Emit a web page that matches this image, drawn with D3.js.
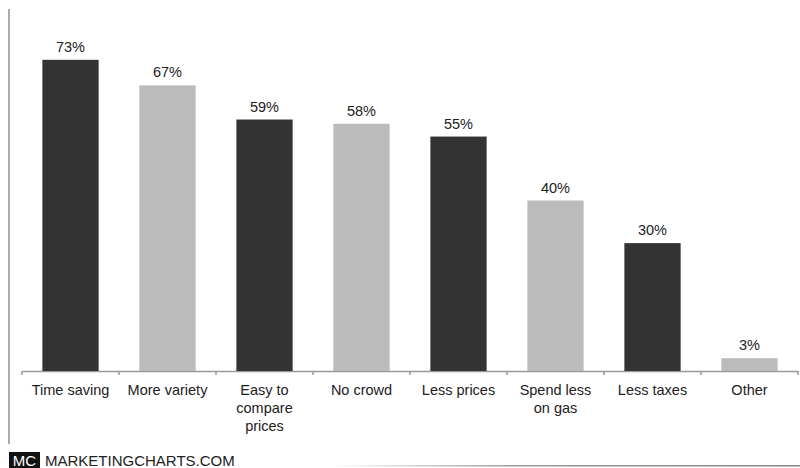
<!DOCTYPE html>
<html>
<head>
<meta charset="utf-8">
<script src="https://cdn.jsdelivr.net/npm/d3@7"></script>
<style>
  body { margin: 0; background: #fff; }
  svg { display: block; font-family: "Liberation Sans", Arial, sans-serif; }
</style>
</head>
<body>
<div id="chart-area"></div>
<script>
var categories = ["Time saving", "More variety", "Easy to compare prices", "No crowd", "Less prices", "Spend less on gas", "Less taxes", "Other"];
var labelLines = [["Time saving"], ["More variety"], ["Easy to", "compare", "prices"], ["No crowd"], ["Less prices"], ["Spend less", "on gas"], ["Less taxes"], ["Other"]];
var values = [73, 67, 59, 58, 55, 40, 30, 3];

var width = 800, height = 468;
var margin = {left: 22, right: 2, top: 30, bottom: 97};

var svg = d3.select("#chart-area").append("svg")
    .attr("width", width)
    .attr("height", height);

var defs = svg.append("defs");
var grad = defs.append("linearGradient").attr("id", "fade");
grad.append("stop").attr("offset", "0%").attr("stop-color", "#fff");
grad.append("stop").attr("offset", "40%").attr("stop-color", "#999");
grad.append("stop").attr("offset", "100%").attr("stop-color", "#888");

// left frame line
svg.append("line")
    .attr("x1", 9).attr("x2", 9)
    .attr("y1", 9).attr("y2", 444)
    .attr("stroke", "#aaa")
    .attr("stroke-width", 2);

var x = d3.scaleBand()
    .domain(categories)
    .range([margin.left, width - margin.right])
    .paddingInner(0.42)
    .paddingOuter(0.21);

var y = d3.scaleLinear()
    .domain([0, 80])
    .range([height - margin.bottom, margin.top]);

var base = y(0);

var xAxis = d3.axisBottom(x).tickSize(0).tickFormat("");
var ax = svg.append("g")
    .attr("transform", "translate(0," + base + ")")
    .call(xAxis);
ax.select(".domain").attr("stroke", "#999").attr("stroke-width", 1.5);

// tick marks on band boundaries
var bounds = d3.range(categories.length + 1).map(function(i){
    return margin.left + i * (width - margin.right - margin.left) / categories.length;
});
svg.selectAll(".btick")
    .data(bounds)
    .enter()
    .append("line")
    .attr("x1", function(d){ return d; })
    .attr("x2", function(d){ return d; })
    .attr("y1", base)
    .attr("y2", base + 4)
    .attr("stroke", "#999")
    .attr("stroke-width", 1.5);

svg.selectAll(".bar")
    .data(values)
    .enter()
    .append("rect")
    .attr("x", function(d, i){ return x(categories[i]); })
    .attr("y", function(d){ return y(d); })
    .attr("width", x.bandwidth())
    .attr("height", function(d){ return base - y(d); })
    .attr("fill", function(d, i){ return i % 2 === 0 ? "#333333" : "#bbbbbb"; });

svg.selectAll(".val")
    .data(values)
    .enter()
    .append("text")
    .attr("x", function(d, i){ return x(categories[i]) + x.bandwidth() / 2; })
    .attr("y", function(d){ return y(d) - 8; })
    .attr("text-anchor", "middle")
    .attr("font-size", "14.5px")
    .attr("fill", "#222")
    .text(function(d){ return d + "%"; });

var lab = svg.selectAll(".cat")
    .data(labelLines)
    .enter()
    .append("text")
    .attr("text-anchor", "middle")
    .attr("font-size", "14.5px")
    .attr("fill", "#222")
    .attr("x", function(d, i){ return x(categories[i]) + x.bandwidth() / 2; })
    .attr("y", base + 24);
lab.selectAll("tspan")
    .data(function(d){ return d; })
    .enter()
    .append("tspan")
    .attr("x", function(){ return this.parentNode.getAttribute("x"); })
    .attr("dy", function(d, i){ return i === 0 ? 0 : 18; })
    .text(function(d){ return d; });

// footer
svg.append("rect")
    .attr("x", 9).attr("y", 452)
    .attr("width", 31).attr("height", 16)
    .attr("fill", "#111");
svg.append("text")
    .attr("x", 24.5).attr("y", 466)
    .attr("text-anchor", "middle")
    .attr("font-size", "15px")
    .attr("fill", "#fff")
    .text("MC");
svg.append("text")
    .attr("x", 45).attr("y", 466)
    .attr("font-size", "15px")
    .attr("fill", "#222")
    .text("MARKETINGCHARTS.COM");
svg.append("rect")
    .attr("x", 330).attr("y", 465)
    .attr("width", 470).attr("height", 1.5)
    .attr("fill", "url(#fade)");
</script>
</body>
</html>
